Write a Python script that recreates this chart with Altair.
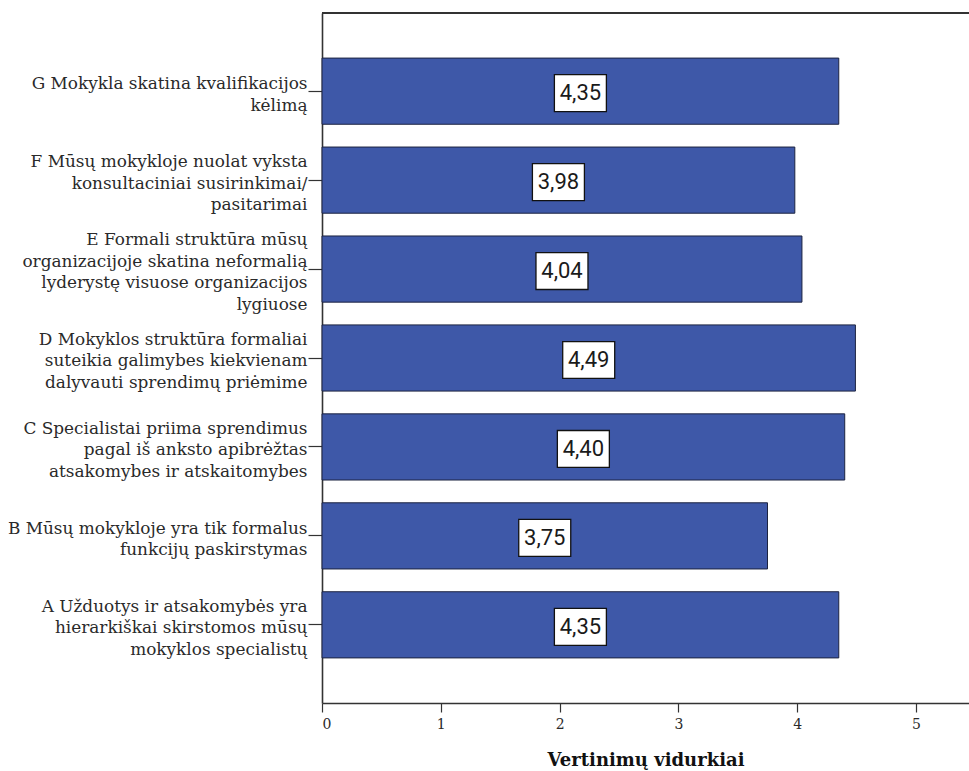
import altair as alt
import pandas as pd

# Statements (with their line breaks) and mean ratings, top to bottom
statements = [
    "G Mokykla skatina kvalifikacijos\nkėlimą",
    "F Mūsų mokykloje nuolat vyksta\nkonsultaciniai susirinkimai/\npasitarimai",
    "E Formali struktūra mūsų\norganizacijoje skatina neformalią\nlyderystę visuose organizacijos\nlygiuose",
    "D Mokyklos struktūra formaliai\nsuteikia galimybes kiekvienam\ndalyvauti sprendimų priėmime",
    "C Specialistai priima sprendimus\npagal iš anksto apibrėžtas\natsakomybes ir atskaitomybes",
    "B Mūsų mokykloje yra tik formalus\nfunkcijų paskirstymas",
    "A Užduotys ir atsakomybės yra\nhierarkiškai skirstomos mūsų\nmokyklos specialistų",
]
means = [4.35, 3.98, 4.04, 4.49, 4.40, 3.75, 4.35]
x_ticks = [0, 1, 2, 3, 4, 5]
x_title = "Vertinimų vidurkiai"

df = pd.DataFrame({"statement": statements, "mean": means})

W, H = 647, 690
serif = "DejaVu Serif"
line_h = 21.7

y_enc = alt.Y(
    "statement:N",
    sort=statements,
    title=None,
    scale=alt.Scale(paddingInner=0.256, paddingOuter=0.507),
    axis=alt.Axis(
        labelExpr="split(datum.label, '\\n')",
        # centre each multi-line label block on its tick
        labelOffset={"expr": f"3.5 - (length(split(datum.label, '\\n')) - 1) * {line_h / 2}"},
        labelFont=serif,
        labelFontSize=16.9,
        labelLineHeight=line_h,
        labelColor="#2a2a2a",
        labelLimit=400,
        labelPadding=1,
        tickSize=14,
        tickColor="#333333",
        tickWidth=1.2,
        domainColor="#333333",
        domainWidth=1.6,
    ),
)

x_scale = alt.Scale(domain=[0, W / 118.8], nice=False)

base = alt.Chart(df)

bars = base.mark_bar(color="#3e58a8", stroke="#1c2340", strokeWidth=1).encode(
    x=alt.X(
        "mean:Q",
        scale=x_scale,
        title=x_title,
        axis=alt.Axis(
            values=x_ticks,
            format="d",
            grid=False,
            labelFont=serif,
            labelFontSize=14,
            labelColor="#2a2a2a",
            labelPadding=5,
            tickSize=9,
            tickColor="#333333",
            tickWidth=1.2,
            domainColor="#333333",
            domainWidth=1.6,
            titleFont=serif,
            titleFontSize=18,
            titleFontWeight="bold",
            titleColor="#111111",
            titlePadding=20,
        ),
    ),
    y=y_enc,
)

labelled = base.transform_calculate(
    mid="datum.mean / 2",
    txt="replace(format(datum.mean, '.2f'), '.', ',')",
)

boxes = labelled.mark_point(
    shape="M-1,-0.71L1,-0.71L1,0.71L-1,0.71Z",
    size=52 * 52,
    filled=True,
    fill="white",
    stroke="#111111",
    strokeWidth=1.3,
    opacity=1,
    yOffset=2,
).encode(x=alt.X("mid:Q", scale=x_scale), y=alt.Y("statement:N", sort=statements))

texts = labelled.mark_text(
    font="Roboto", fontSize=22, color="#1a1a1a", dy=2
).encode(
    x=alt.X("mid:Q", scale=x_scale),
    y=alt.Y("statement:N", sort=statements),
    text="txt:N",
)

top_line = alt.Chart(df).mark_rule(color="#333333", strokeWidth=1.6).encode(
    x=alt.value(0), x2=alt.value(W), y=alt.value(0)
)

chart = (
    alt.layer(bars, boxes, texts, top_line)
    .properties(
        width=W,
        height=H,
        autosize=alt.AutoSizeParams(type="none"),
        padding={"left": 322, "top": 13, "right": 0, "bottom": 68},
        background="white",
    )
    .configure_view(stroke=None)
)

chart.save("out.html", embed_options={"renderer": "svg", "actions": False})
